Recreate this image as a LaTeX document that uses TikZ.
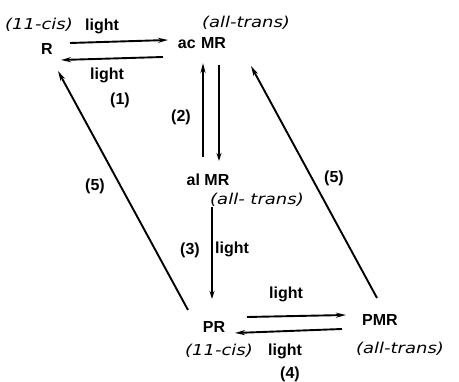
\documentclass[tikz,border=0pt]{standalone}
\usepackage{fontspec}
\setmainfont{DejaVu Sans}
\newfontfamily\lblfont{Liberation Sans}
\usetikzlibrary{arrows.meta}
\newcommand{\hw}[1]{{\fontsize{15pt}{17pt}\selectfont\itshape\scalebox{1.2}[1]{#1}}}
\tikzset{
  lbl/.style={font=\lblfont\fontsize{16pt}{18pt}\selectfont\bfseries, inner sep=0pt},
  hand/.style={inner sep=0pt},
  conn/.style={line width=1.9pt, -{Stealth[length=10pt,width=5pt]}},
  connopen/.style={line width=1.5pt, -{Stealth[open,length=8pt,width=5pt]}},
}
\begin{document}
\begin{tikzpicture}[x=1pt,y=-1pt]
\useasboundingbox (0,0) rectangle (459,382);
% nodes
\node[lbl] (R) at (47,49) {R};
\node[hand] (Rcis) at (39,25) {\hw{(11-cis)}};
\node[lbl] (acMR) at (202,43) {ac\,\,MR};
\node[hand] (acMRt) at (246,23) {\hw{(all-trans)}};
\node[lbl] (alMR) at (208,180) {al MR};
\node[hand] (alMRt) at (257,200) {\hw{(all- trans)}};
\node[lbl] (PR) at (214,327) {PR};
\node[hand] (PRcis) at (219,351) {\hw{(11-cis)}};
\node[lbl] (PMR) at (380,320) {PMR};
\node[hand] (PMRt) at (400,349) {\hw{(all-trans)}};
% labels
\node[lbl] (l1a) at (102,26) {light};
\node[lbl] (l1b) at (107,75) {light};
\node[lbl] (n1) at (120,100) {(1)};
\node[lbl] (n2) at (181,117) {(2)};
\node[lbl] (n3) at (190,250) {(3)};
\node[lbl] (l3) at (232,249) {light};
\node[lbl] (l4a) at (286,294) {light};
\node[lbl] (l4b) at (285,351) {light};
\node[lbl] (n4) at (290,374) {(4)};
\node[lbl] (n5a) at (95,186) {(5)};
\node[lbl] (n5b) at (334,178) {(5)};
% connector endpoints
\coordinate (a1s) at (70,43);
\coordinate (a1e) at (168,40);
\coordinate (b1s) at (163,57);
\coordinate (b1e) at (61,60);
\coordinate (a2s) at (203,157);
\coordinate (a2e) at (203,63);
\coordinate (b2s) at (219,65);
\coordinate (b2e) at (219,161);
\coordinate (a3s) at (212,207);
\coordinate (a3e) at (212,299);
\coordinate (a4s) at (247,317);
\coordinate (a4e) at (346,315);
\coordinate (b4s) at (342,329);
\coordinate (b4e) at (235,333);
\coordinate (a5s) at (188,310);
\coordinate (a5e) at (58,71);
\coordinate (b5s) at (377,298);
\coordinate (b5e) at (251,66);
% connectors
\draw[conn] (a1s) -- (a1e);
\draw[conn] (b1s) -- (b1e);
\draw[conn] (a2s) -- (a2e);
\draw[connopen] (b2s) -- (b2e);
\draw[connopen] (a3s) -- (a3e);
\draw[conn] (a4s) -- (a4e);
\draw[conn] (b4s) -- (b4e);
\draw[conn] (a5s) -- (a5e);
\draw[conn] (b5s) -- (b5e);
\end{tikzpicture}
\end{document}
